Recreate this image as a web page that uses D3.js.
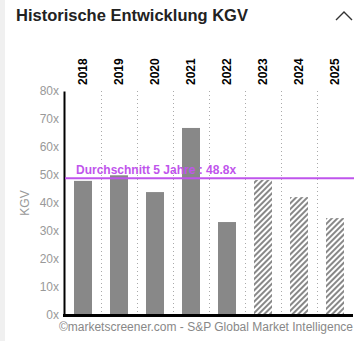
<!DOCTYPE html>
<html><head><meta charset="utf-8">
<script src="https://cdn.jsdelivr.net/npm/d3@7"></script>
<style>
html,body{margin:0;padding:0;background:#fff;}
svg{display:block;font-family:"Liberation Sans",Arial,sans-serif;}
</style></head>
<body><svg id="c" width="360" height="341"></svg>
<script>
const categories = ["2018","2019","2020","2021","2022","2023","2024","2025"];
const kgvValues = [47.9, 49.9, 43.9, 66.8, 33.2, 48.2, 42.1, 34.6];
const isEstimate = [false, false, false, false, false, true, true, true];
const yTicks = [0,10,20,30,40,50,60,70,80];
const averageValue = 48.8;
const averageLabel = "Durchschnitt 5 Jahre : 48.8x";
const titleText = "Historische Entwicklung KGV";
const yAxisTitle = "KGV";
const creditText = "\u00A9marketscreener.com - S&P Global Market Intelligence";

const svg = d3.select("#c");
const L = 65, R = 353, T = 91, B = 315;

// left page strip
svg.append("rect").attr("x",0).attr("y",0).attr("width",5).attr("height",341).attr("fill","#f0f0f0");

// title
svg.append("text").attr("x",16).attr("y",21).attr("font-size",16.5).attr("font-weight","bold")
  .attr("fill","#222").text(titleText);
// chevron
svg.append("path").attr("d","M336,20 L344,12 L352,20").attr("fill","none").attr("stroke","#333").attr("stroke-width",1.4);

const defs = svg.append("defs");
const pat = defs.append("pattern").attr("id","hatch").attr("patternUnits","userSpaceOnUse")
  .attr("width",4).attr("height",4).attr("patternTransform","rotate(45)");
pat.append("rect").attr("width",4).attr("height",4).attr("fill","#fff");
pat.append("rect").attr("x",0).attr("y",0).attr("width",2).attr("height",4).attr("fill","#888");

const x = d3.scaleBand().domain(categories).range([L,R]).paddingInner(0.5).paddingOuter(0.25);
const y = d3.scaleLinear().domain([0,80]).range([B,T]);

// dotted vertical separators
const step = x.step();
svg.append("g").selectAll("line").data(categories.slice(1)).join("line")
  .attr("x1",d=>Math.round(x(d) - (step - x.bandwidth())/2)+0.5)
  .attr("x2",d=>Math.round(x(d) - (step - x.bandwidth())/2)+0.5)
  .attr("y1",T).attr("y2",B)
  .attr("stroke","#aaa").attr("stroke-width",1).attr("stroke-dasharray","1,3");

// bars
svg.append("g").selectAll("rect").data(categories).join("rect")
  .attr("x",d=>x(d)).attr("width",x.bandwidth())
  .attr("y",(d,i)=>y(kgvValues[i])).attr("height",(d,i)=>B - y(kgvValues[i]))
  .attr("fill",(d,i)=>isEstimate[i] ? "url(#hatch)" : "#888");

// y axis
const yAxis = d3.axisLeft(y).tickValues(yTicks).tickFormat(d=>d+"x").tickSize(0).tickPadding(5);
const gy = svg.append("g").attr("transform",`translate(${L-1},0)`).call(yAxis);
gy.select(".domain").attr("stroke","#000").attr("stroke-width",2);
gy.selectAll("text").attr("fill","#999").attr("font-size",12).attr("font-family","Liberation Sans, Arial, sans-serif");

// x axis on top (year labels)
const xAxis = d3.axisTop(x).tickSize(0);
const gx = svg.append("g").attr("transform",`translate(0,${T})`).call(xAxis);
gx.select(".domain").remove();
gx.selectAll("text").attr("transform","translate(0,-6) rotate(-90)").attr("x",0).attr("y",0)
  .attr("dy","0.35em").attr("text-anchor","start")
  .attr("fill","#000").attr("font-weight","bold").attr("font-size",12)
  .attr("font-family","Liberation Sans, Arial, sans-serif");

// bottom axis line
svg.append("line").attr("x1",L-2).attr("x2",R).attr("y1",B+0.5).attr("y2",B+0.5)
  .attr("stroke","#000").attr("stroke-width",3);

// average line
svg.append("line").attr("x1",L).attr("x2",R+1).attr("y1",y(averageValue)).attr("y2",y(averageValue))
  .attr("stroke","#bf55ec").attr("stroke-width",2);
svg.append("text").attr("x",76).attr("y",y(averageValue)-4).attr("font-size",12).attr("font-weight","bold")
  .attr("fill","#bf55ec").text(averageLabel);

// y title
svg.append("text").attr("transform",`translate(29,${(T+B)/2}) rotate(-90)`).attr("text-anchor","middle")
  .attr("font-size",12).attr("fill","#999").text(yAxisTitle);

// credit
svg.append("text").attr("x",R).attr("y",331).attr("text-anchor","end").attr("font-size",12)
  .attr("fill","#888").text(creditText);
</script></body></html>
